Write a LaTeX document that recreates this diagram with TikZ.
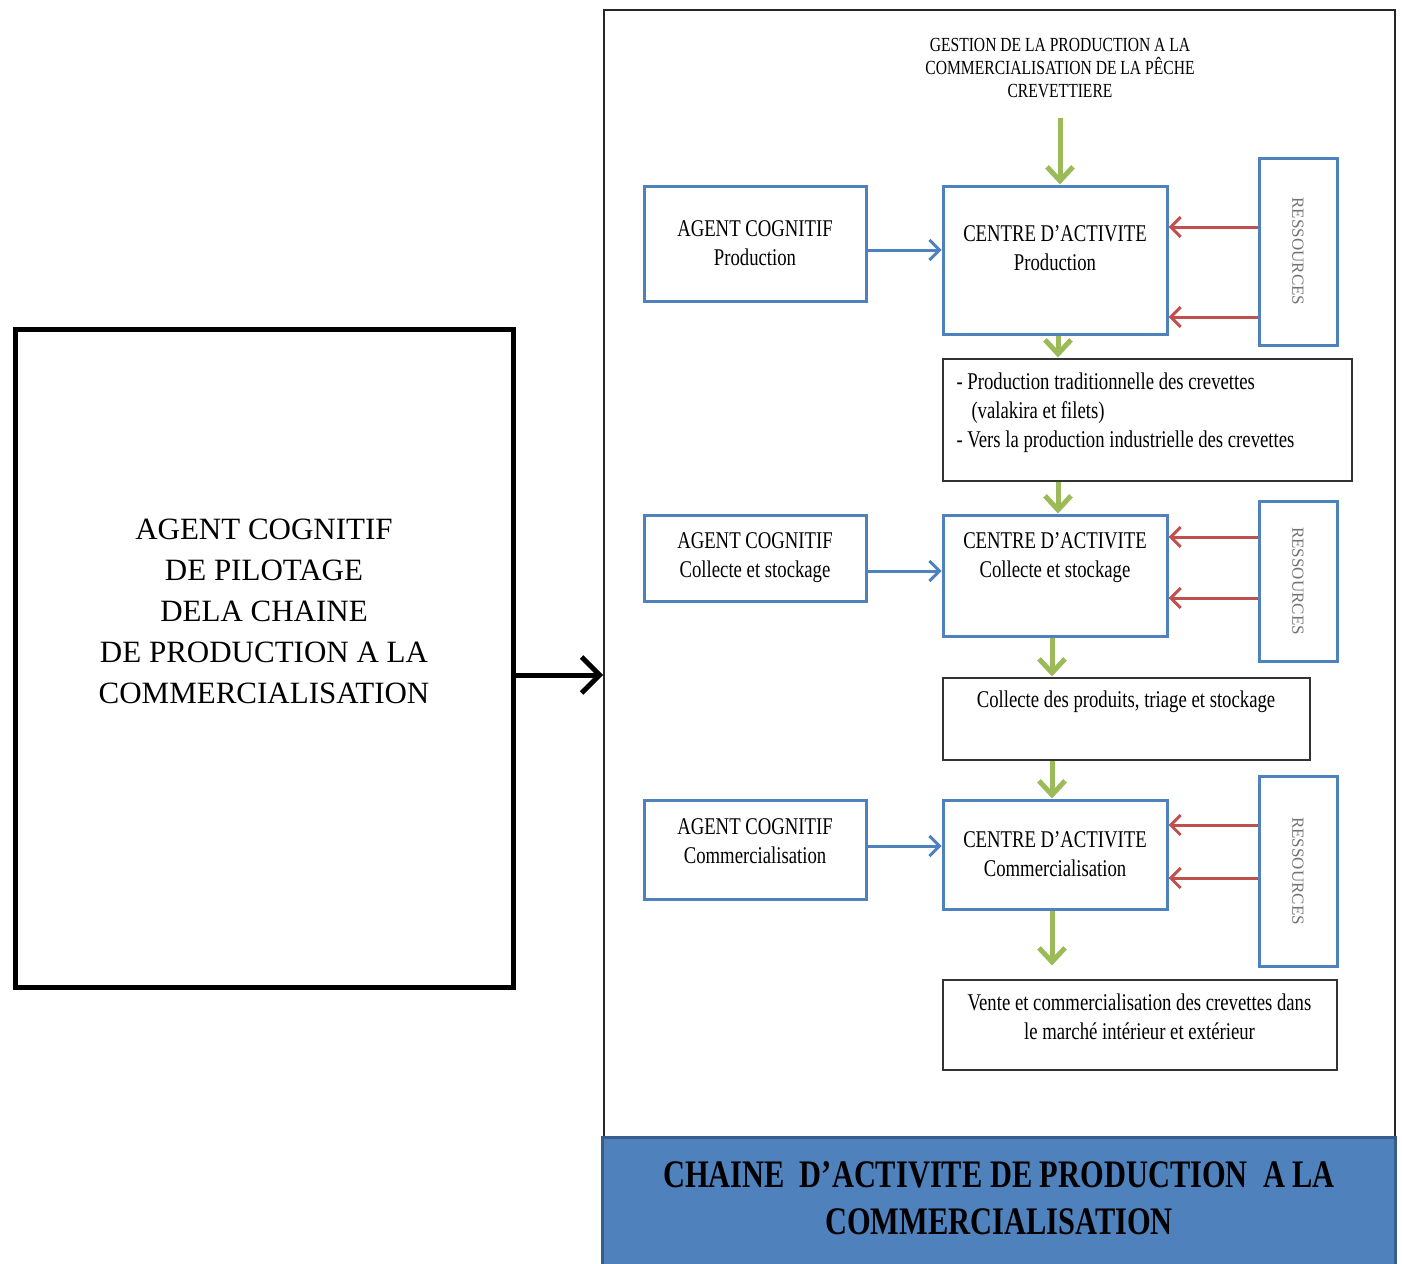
\documentclass[tikz,border=0pt]{standalone}
\usepackage{fontspec}
\setmainfont{Liberation Serif}
\newfontfamily\narrow[FakeStretch=0.78]{Liberation Serif}
\usepackage{xcolor}
\usepackage{graphicx}
\usepackage{tikz}
\usetikzlibrary{arrows.meta,positioning}

\definecolor{boxblue}{RGB}{79,129,189}
\definecolor{resred}{RGB}{192,80,77}
\definecolor{flowgreen}{RGB}{155,187,89}
\definecolor{bannerline}{RGB}{56,93,138}

\begin{document}
\begin{tikzpicture}[
    x=0.5pt, y=-0.5pt,
    node distance=20pt,
    pilot/.style={rectangle, draw=black, line width=2.5pt, minimum width=249pt, minimum height=329pt, align=center, font=\fontsize{15.5}{20.5}\selectfont},
    frame/.style={rectangle, draw=black!85, line width=0.8pt, minimum width=395.5pt, minimum height=563.5pt},
    banner/.style={rectangle, draw=bannerline, fill=boxblue, line width=1.5pt, minimum width=396.5pt, minimum height=76.5pt, align=center, font=\narrow\bfseries\fontsize{19.5}{23.5}\selectfont},
    head/.style={align=center, inner sep=1pt, font=\narrow\fontsize{10}{11.5}\selectfont},
    agent/.style={rectangle, draw=boxblue, line width=1.5pt, minimum width=111pt, align=center, inner sep=2pt, font=\narrow\fontsize{12}{14.5}\selectfont},
    centre/.style={agent, minimum width=112pt},
    res/.style={rectangle, draw=boxblue, line width=1.5pt, minimum width=39pt, inner sep=0pt, text=black!55, font=\fontsize{8.5}{10}\selectfont},
    note/.style={rectangle, draw=black!80, line width=1pt, align=center, inner sep=2pt, font=\narrow\fontsize{12}{14.5}\selectfont},
    drive/.style={-{Straight Barb[length=9pt,width=18pt]}, line width=2.5pt, black},
    ctl/.style={-{Straight Barb[length=5pt,width=10pt]}, line width=1.5pt, boxblue},
    feed/.style={-{Straight Barb[length=5pt,width=10pt]}, line width=1.5pt, resred},
    flow/.style={-{Straight Barb[length=7pt,width=13pt]}, line width=2.5pt, flowgreen}
]
    \useasboundingbox (0,0) rectangle (1402,1263);

    % pilot and frame of the chain
    \node[pilot] (pilot) at (264,658.5) {AGENT COGNITIF\\DE PILOTAGE\\DELA CHAINE\\DE PRODUCTION A LA\\COMMERCIALISATION\\[26.5pt]\mbox{}};
    \node[frame] (chain) at (999.5,573.5) {};
    \node[banner] (title) at (999,1213.5) {CHAINE\ \ D’ACTIVITE DE PRODUCTION\ \ A LA\\COMMERCIALISATION\\[-8.5pt]\mbox{}};
    \node[head] (gestion) at (1060,68) {GESTION DE LA PRODUCTION A LA\\COMMERCIALISATION DE LA PÊCHE\\CREVETTIERE};

    % production
    \node[centre, minimum height=74pt] (cp) at (1055,260) {CENTRE D’ACTIVITE\\Production\\[-2.5pt]\mbox{}};
    \node[agent, minimum height=57.5pt, left=37pt of cp.north west, anchor=north east] (ap) {AGENT COGNITIF\\Production};
    \node[res, minimum height=93.5pt, right=44.5pt of cp, yshift=4.25pt] (rp) {\rotatebox{-90}{RESSOURCES}};
    \node[note, text width=190.5pt, align=flush left, inner xsep=7pt, minimum height=61pt, below=11pt of cp.south west, anchor=north west] (t1) {- Production traditionnelle des crevettes\\\hspace*{7.5pt}(valakira et filets)\\- Vers la production industrielle des crevettes\\[-4.9pt]\mbox{}};

    % collecte
    \node[centre, minimum height=60.5pt, below=16pt of t1.south west, anchor=north west] (cc) {CENTRE D’ACTIVITE\\Collecte et stockage\\[6.1pt]\mbox{}};
    \node[agent, minimum height=43pt, left=37pt of cc.north west, anchor=north east] (ac) {AGENT COGNITIF\\Collecte et stockage};
    \node[res, minimum height=80pt, right=44.5pt of cc, yshift=-2.75pt] (rc) {\rotatebox{-90}{RESSOURCES}};
    \node[note, minimum width=183.5pt, minimum height=41pt, below=19.5pt of cc.south west, anchor=north west] (t2) {Collecte des produits, triage et stockage\\[5.1pt]\mbox{}};

    % commercialisation
    \node[centre, minimum height=54.5pt, below=19pt of t2.south west, anchor=north west] (cm) {CENTRE D’ACTIVITE\\Commercialisation};
    \node[agent, minimum height=49.5pt, left=37pt of cm.north west, anchor=north east] (am) {AGENT COGNITIF\\Commercialisation\\[-6.5pt]\mbox{}};
    \node[res, minimum height=95pt, right=44.5pt of cm, yshift=-8.25pt] (rm) {\rotatebox{-90}{RESSOURCES}};
    \node[note, minimum width=197pt, minimum height=45pt, below=34pt of cm.south west, anchor=north west] (t3) {Vente et commercialisation des crevettes dans\\le marché intérieur et extérieur\\[-7pt]\mbox{}};

    \draw[drive] ([yshift=-8.25pt]pilot.east) -- ([yshift=-8.25pt]pilot.east -| chain.west);

    \draw[ctl] ([yshift=-3.25pt]ap.east) -- ([yshift=-3.25pt]ap.east -| cp.west);
    \draw[ctl] ([yshift=-6.5pt]ac.east) -- ([yshift=-6.5pt]ac.east -| cc.west);
    \draw[ctl] ([yshift=1.75pt]am.east) -- ([yshift=1.75pt]am.east -| cm.west);

    \draw[feed] ([yshift=16.5pt]cp.east -| rp.west) -- ([yshift=16.5pt]cp.east);
    \draw[feed] ([yshift=-28.5pt]cp.east -| rp.west) -- ([yshift=-28.5pt]cp.east);
    \draw[feed] ([yshift=19.25pt]cc.east -| rc.west) -- ([yshift=19.25pt]cc.east);
    \draw[feed] ([yshift=-11.25pt]cc.east -| rc.west) -- ([yshift=-11.25pt]cc.east);
    \draw[feed] ([yshift=14.75pt]cm.east -| rm.west) -- ([yshift=14.75pt]cm.east);
    \draw[feed] ([yshift=-11.75pt]cm.east -| rm.west) -- ([yshift=-11.75pt]cm.east);

    \draw[flow, shorten <=9pt] (gestion.south) -- (gestion.south |- cp.north);
    \draw[flow] ([xshift=1.5pt]cp.south) -- ([xshift=1.5pt]cp.south |- t1.north);
    \draw[flow] ([xshift=1.5pt]cc.north |- t1.south) -- ([xshift=1.5pt]cc.north);
    \draw[flow] ([xshift=-1.5pt]cc.south) -- ([xshift=-1.5pt]cc.south |- t2.north);
    \draw[flow] ([xshift=-1.5pt]cm.north |- t2.south) -- ([xshift=-1.5pt]cm.north);
    \draw[flow, shorten >=6.5pt] ([xshift=-1.5pt]cm.south) -- ([xshift=-1.5pt]cm.south |- t3.north);
\end{tikzpicture}
\end{document}
